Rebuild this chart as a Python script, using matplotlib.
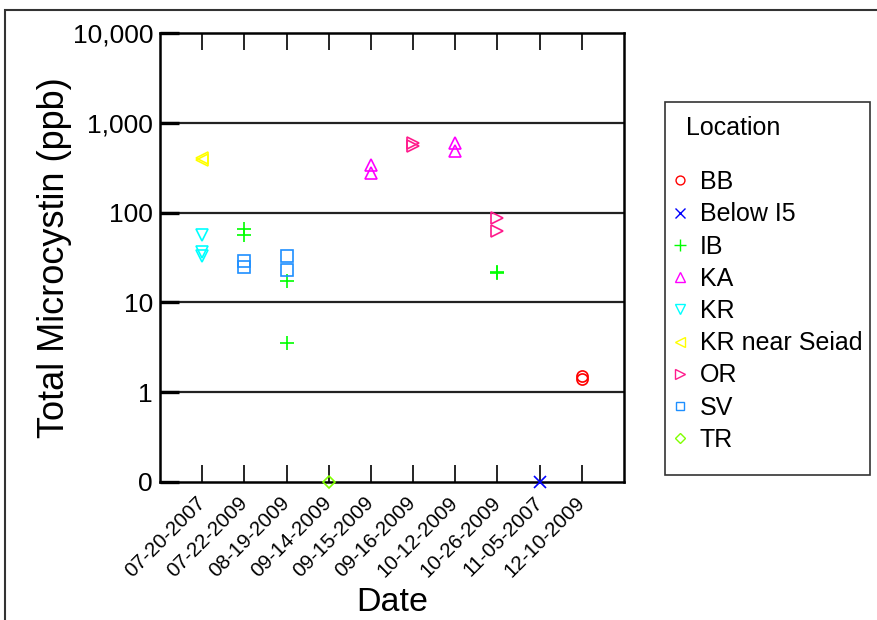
import matplotlib
matplotlib.use("Agg")
import matplotlib.pyplot as plt
import matplotlib.transforms as mtransforms
from matplotlib.patches import Rectangle
from matplotlib.lines import Line2D

plt.rcParams["font.family"] = ["Liberation Sans", "DejaVu Sans"]

DATES = ["07-20-2007", "07-22-2009", "08-19-2009", "09-14-2009", "09-15-2009",
         "09-16-2009", "10-12-2009", "10-26-2009", "11-05-2007", "12-10-2009"]

LOCATIONS = ["BB", "Below I5", "IB", "KA", "KR", "KR near Seiad", "OR", "SV", "TR"]

# sample dates and total microcystin (ppb) per location; 0 = below detection
bb_dates = ["12-10-2009", "12-10-2009"]
bb_vals = [1.5, 1.42]
below_i5_dates = ["11-05-2007"]
below_i5_vals = [0]
ib_dates = ["07-22-2009", "07-22-2009", "08-19-2009", "08-19-2009", "10-26-2009", "10-26-2009"]
ib_vals = [66, 57, 17.5, 3.5, 22, 21]
ka_dates = ["09-15-2009", "09-15-2009", "10-12-2009", "10-12-2009"]
ka_vals = [335, 275, 600, 480]
kr_dates = ["07-20-2007", "07-20-2007", "07-20-2007"]
kr_vals = [57, 36, 33]
kr_seiad_dates = ["07-20-2007", "07-20-2007"]
kr_seiad_vals = [410, 385]
or_dates = ["09-16-2009", "09-16-2009", "10-26-2009", "10-26-2009"]
or_vals = [600, 550, 88, 62]
sv_dates = ["07-22-2009", "07-22-2009", "08-19-2009", "08-19-2009"]
sv_vals = [29, 24.5, 33, 23]
tr_dates = ["09-14-2009"]
tr_vals = [0]

series = [
    (bb_dates, bb_vals), (below_i5_dates, below_i5_vals), (ib_dates, ib_vals),
    (ka_dates, ka_vals), (kr_dates, kr_vals), (kr_seiad_dates, kr_seiad_vals),
    (or_dates, or_vals), (sv_dates, sv_vals), (tr_dates, tr_vals),
]
markers = ["o", "x", "+", "^", "v", "<", ">", "s", "D"]
colors = ["#ff0000", "#0000ff", "#00ff00", "#ff00ff", "#00ffff", "#ffff00",
          "#ff1a8c", "#1e8fff", "#80ff00"]
sizes = [8, 9, 10, 9, 9, 9, 9, 8, 6]

ZERO_POS = 0.1  # where a zero reading sits on the log axis

fig = plt.figure(figsize=(8.78, 6.2), dpi=100)
ax = fig.add_axes([0.1822, 0.2226, 0.5285, 0.7242])

handles = []
for (dts, vals), loc, m, c, s in zip(series, LOCATIONS, markers, colors, sizes):
    xs = [DATES.index(d) for d in dts]
    ys = [v if v > 0 else ZERO_POS for v in vals]
    ax.plot(xs, ys, linestyle="none", marker=m, markersize=s, markerfacecolor="none",
            markeredgecolor=c, markeredgewidth=1.2, clip_on=False, zorder=5)
    handles.append(Line2D([], [], linestyle="none", marker=m, markersize=s * 0.8,
                          markerfacecolor="none", markeredgecolor=c, markeredgewidth=1.0,
                          label=loc))

ax.set_yscale("log")
ax.set_ylim(0.1, 10000)
ax.set_xlim(-1, len(DATES))
yt = [0.1, 1, 10, 100, 1000, 10000]
ax.set_yticks(yt)
ax.set_yticklabels(["0", "1", "10", "100", "1,000", "10,000"], fontsize=19)
ax.yaxis.set_minor_locator(matplotlib.ticker.NullLocator())
for v in [1, 10, 100, 1000]:
    ax.axhline(v, color="#222222", lw=1.6, zorder=1)

ax.set_xticks(range(len(DATES)))
ax.set_xticklabels(DATES, rotation=45, ha="right", va="center",
                   rotation_mode="anchor", fontsize=14.8)
shift = mtransforms.ScaledTranslation(16 / 100, 0, fig.dpi_scale_trans)
for lbl in ax.get_xticklabels():
    lbl.set_transform(lbl.get_transform() + shift)
ax.tick_params(axis="x", direction="in", length=12, width=1.2, top=True, pad=13)
ax.tick_params(axis="y", direction="in", length=14, width=2.4, pad=5)
for sp in ax.spines.values():
    sp.set_linewidth(1.8)

ax.set_ylabel("Total Microcystin (ppb)", fontsize=26)
ax.yaxis.set_label_coords(-0.189, 0.5)
ax.set_xlabel("Date", fontsize=24.5)
ax.xaxis.set_label_coords(0.5, -0.233)

# legend box drawn separately so its size is fixed
fig.patches.append(Rectangle((665 / 878, 1 - 475 / 620), 205 / 878, 373 / 620,
                             transform=fig.transFigure, fill=False, lw=1.2,
                             edgecolor="#333333"))
fig.text(686 / 878, 1 - 128 / 620, "Location", fontsize=18, va="center", ha="left")
fig.legend(handles=handles, loc="upper left",
           bbox_to_anchor=(670 / 878, 1 - 170 / 620), frameon=False,
           fontsize=18, handlelength=0.8, handletextpad=0.4, labelspacing=0.33,
           borderpad=0, borderaxespad=0)

# outer frame
fig.patches.append(Rectangle((5 / 878, -0.1), 1.2, 1 - 10 / 620 + 0.1,
                             transform=fig.transFigure, fill=False, lw=1.5,
                             edgecolor="#333333"))

fig.savefig("out.png", dpi=100)
